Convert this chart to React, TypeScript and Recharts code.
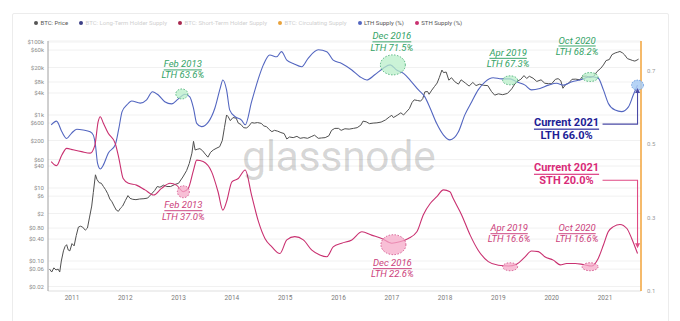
import React from 'react';
import { LineChart, Line, XAxis, YAxis, CartesianGrid, ReferenceDot } from 'recharts';

// ---------- data ----------
const yearTicks = [2011, 2012, 2013, 2014, 2015, 2016, 2017, 2018, 2019, 2020, 2021];
const priceTicks = [0.02, 0.06, 0.1, 0.4, 0.8, 2, 6, 10, 40, 60, 200, 600, 1000, 4000, 8000, 20000, 60000, 100000];
const priceTickLabels = ['$0.02', '$0.06', '$0.10', '$0.40', '$0.80', '$2', '$6', '$10', '$40', '$60', '$200', '$600', '$1k', '$4k', '$8k', '$20k', '$60k', '$100k'];
const ratioTicks = [0.1, 0.3, 0.5, 0.7];

const legendNames = ['BTC: Price', 'BTC: Long-Term Holder Supply', 'BTC: Short-Term Holder Supply', 'BTC: Circulating Supply', 'LTH Supply (%)', 'STH Supply (%)'];
const legendActive = [true, false, false, false, true, true];

const priceSeries: [number, number][] = [
  [2010.58, 0.06], [2010.62, 0.05], [2010.66, 0.065], [2010.70, 0.057], [2010.74, 0.06], [2010.77, 0.05],
  [2010.80, 0.1], [2010.84, 0.19], [2010.87, 0.25], [2010.90, 0.28], [2010.93, 0.2], [2010.96, 0.19],
  [2011.00, 0.3], [2011.04, 0.26], [2011.08, 0.5], [2011.12, 0.85], [2011.16, 0.9], [2011.20, 0.85],
  [2011.25, 0.7], [2011.29, 0.8], [2011.33, 1.6], [2011.37, 3.2], [2011.40, 7.5], [2011.44, 23],
  [2011.47, 17], [2011.51, 14], [2011.55, 13.5], [2011.59, 11], [2011.63, 9], [2011.67, 7], [2011.71, 5],
  [2011.75, 4.2], [2011.79, 3.2], [2011.83, 2.5], [2011.87, 2.3], [2011.91, 2.8], [2011.95, 3.2],
  [2012.00, 4.5], [2012.05, 6.2], [2012.09, 5.2], [2012.14, 4.9], [2012.20, 4.8], [2012.27, 5.0],
  [2012.35, 5.1], [2012.42, 5.3], [2012.48, 6.6], [2012.55, 8.5], [2012.60, 11], [2012.65, 10.5],
  [2012.72, 12], [2012.78, 11], [2012.85, 11], [2012.93, 12.5], [2013.00, 13.5], [2013.08, 20],
  [2013.15, 30], [2013.20, 47], [2013.25, 90], [2013.28, 190], [2013.31, 110], [2013.35, 115],
  [2013.40, 120], [2013.45, 105], [2013.50, 85], [2013.55, 70], [2013.60, 95], [2013.65, 110],
  [2013.72, 125], [2013.77, 135], [2013.82, 200], [2013.86, 450], [2013.90, 1000], [2013.93, 900],
  [2013.97, 700], [2014.02, 850], [2014.08, 820], [2014.12, 600], [2014.17, 550], [2014.22, 450],
  [2014.27, 440], [2014.31, 480], [2014.37, 620], [2014.42, 600], [2014.48, 620], [2014.55, 590],
  [2014.60, 500], [2014.65, 480], [2014.70, 400], [2014.75, 350], [2014.80, 380], [2014.86, 360],
  [2014.92, 330], [2014.98, 310], [2015.03, 220], [2015.08, 250], [2015.15, 240], [2015.22, 260],
  [2015.28, 230], [2015.35, 240], [2015.42, 230], [2015.50, 260], [2015.55, 280], [2015.62, 230],
  [2015.68, 235], [2015.75, 240], [2015.82, 270], [2015.87, 380], [2015.93, 430], [2016.00, 430],
  [2016.05, 380], [2016.12, 420], [2016.20, 410], [2016.28, 430], [2016.35, 450], [2016.42, 530],
  [2016.46, 680], [2016.52, 650], [2016.58, 580], [2016.65, 600], [2016.72, 610], [2016.80, 640],
  [2016.88, 730], [2016.96, 900], [2017.00, 980], [2017.03, 850], [2017.10, 980], [2017.17, 1150],
  [2017.22, 1000], [2017.27, 1200], [2017.33, 1500], [2017.38, 2200], [2017.42, 2600], [2017.48, 2500],
  [2017.54, 2400], [2017.58, 2800], [2017.62, 4300], [2017.67, 4400], [2017.70, 3700], [2017.75, 4800],
  [2017.80, 6000], [2017.85, 7500], [2017.89, 10500], [2017.94, 17000], [2017.97, 14500], [2018.02, 15000],
  [2018.07, 9000], [2018.12, 10500], [2018.18, 8200], [2018.25, 7000], [2018.30, 9200], [2018.38, 7500],
  [2018.45, 6200], [2018.52, 7800], [2018.58, 6400], [2018.65, 7000], [2018.72, 6500], [2018.80, 6400],
  [2018.87, 4400], [2018.93, 3500], [2019.00, 3800], [2019.08, 3600], [2019.17, 3900], [2019.25, 5200],
  [2019.33, 8000], [2019.42, 9500], [2019.48, 12000], [2019.53, 10000], [2019.58, 11500], [2019.65, 10200],
  [2019.72, 8300], [2019.80, 9200], [2019.87, 7400], [2019.94, 7200], [2020.00, 7200], [2020.07, 9500],
  [2020.12, 9900], [2020.17, 8700], [2020.21, 5400], [2020.26, 6800], [2020.32, 7500], [2020.38, 9500],
  [2020.45, 9600], [2020.53, 9200], [2020.58, 11500], [2020.65, 11600], [2020.72, 10600], [2020.79, 11500],
  [2020.85, 15500], [2020.92, 19000], [2020.97, 23500], [2021.02, 31000], [2021.08, 33000], [2021.13, 45000],
  [2021.19, 50000], [2021.23, 52000], [2021.28, 55000], [2021.33, 50000], [2021.37, 44000], [2021.42, 35000],
  [2021.47, 33000], [2021.52, 31000], [2021.56, 30000], [2021.60, 32000], [2021.63, 34000],
];

const lthSeries: [number, number][] = [
  [2010.61, 0.552], [2010.71, 0.562], [2010.81, 0.533], [2010.90, 0.515], [2010.99, 0.529], [2011.09, 0.540],
  [2011.21, 0.538], [2011.34, 0.533], [2011.40, 0.524], [2011.44, 0.497], [2011.48, 0.447], [2011.53, 0.432],
  [2011.59, 0.443], [2011.68, 0.475], [2011.81, 0.497], [2011.88, 0.543], [2011.94, 0.588], [2012.03, 0.606],
  [2012.12, 0.617], [2012.28, 0.611], [2012.40, 0.620], [2012.51, 0.642], [2012.62, 0.633], [2012.74, 0.615],
  [2012.87, 0.609], [2012.99, 0.622], [2013.12, 0.635], [2013.21, 0.628], [2013.28, 0.597], [2013.34, 0.556],
  [2013.43, 0.547], [2013.56, 0.560], [2013.68, 0.597], [2013.78, 0.651], [2013.83, 0.674], [2013.90, 0.647],
  [2013.96, 0.592], [2014.06, 0.574], [2014.18, 0.565], [2014.25, 0.552], [2014.37, 0.615], [2014.50, 0.679],
  [2014.59, 0.715], [2014.71, 0.742], [2014.84, 0.737], [2014.93, 0.751], [2015.03, 0.728], [2015.15, 0.719],
  [2015.31, 0.710], [2015.43, 0.733], [2015.62, 0.756], [2015.78, 0.751], [2015.90, 0.728], [2016.06, 0.719],
  [2016.25, 0.701], [2016.40, 0.683], [2016.53, 0.674], [2016.68, 0.688], [2016.84, 0.706], [2016.97, 0.715],
  [2017.09, 0.701], [2017.22, 0.692], [2017.37, 0.669], [2017.50, 0.647], [2017.62, 0.628], [2017.72, 0.597],
  [2017.84, 0.556], [2017.97, 0.524], [2018.09, 0.511], [2018.25, 0.533], [2018.37, 0.579], [2018.50, 0.615],
  [2018.62, 0.647], [2018.75, 0.669], [2018.90, 0.680], [2019.06, 0.677], [2019.22, 0.677], [2019.34, 0.669],
  [2019.50, 0.660], [2019.62, 0.647], [2019.78, 0.651], [2019.94, 0.660], [2020.09, 0.665], [2020.22, 0.660],
  [2020.38, 0.669], [2020.53, 0.674], [2020.72, 0.683], [2020.87, 0.679], [2020.97, 0.647], [2021.06, 0.611],
  [2021.19, 0.592], [2021.31, 0.588], [2021.44, 0.601], [2021.53, 0.633], [2021.61, 0.660],
];

const sthSeries: [number, number][] = [
  [2010.61, 0.452], [2010.71, 0.441], [2010.81, 0.470], [2010.90, 0.488], [2011.02, 0.484], [2011.18, 0.479],
  [2011.34, 0.475], [2011.43, 0.497], [2011.49, 0.560], [2011.53, 0.574], [2011.59, 0.556], [2011.68, 0.529],
  [2011.81, 0.502], [2011.88, 0.461], [2011.96, 0.406], [2012.06, 0.393], [2012.21, 0.388], [2012.37, 0.375],
  [2012.53, 0.361], [2012.68, 0.379], [2012.84, 0.393], [2012.96, 0.388], [2013.09, 0.370], [2013.18, 0.379],
  [2013.28, 0.429], [2013.34, 0.456], [2013.46, 0.452], [2013.62, 0.424], [2013.74, 0.370], [2013.83, 0.320],
  [2013.90, 0.343], [2014.00, 0.397], [2014.12, 0.406], [2014.25, 0.429], [2014.37, 0.360], [2014.50, 0.288],
  [2014.62, 0.243], [2014.75, 0.220], [2014.90, 0.202], [2015.03, 0.239], [2015.18, 0.248], [2015.34, 0.239],
  [2015.50, 0.211], [2015.65, 0.198], [2015.78, 0.193], [2015.90, 0.220], [2016.06, 0.230], [2016.25, 0.239],
  [2016.44, 0.261], [2016.62, 0.252], [2016.81, 0.243], [2017.00, 0.230], [2017.15, 0.234], [2017.31, 0.243],
  [2017.47, 0.261], [2017.59, 0.307], [2017.72, 0.338], [2017.84, 0.356], [2017.97, 0.375], [2018.09, 0.370],
  [2018.15, 0.352], [2018.31, 0.307], [2018.47, 0.252], [2018.62, 0.211], [2018.81, 0.180], [2019.00, 0.170],
  [2019.19, 0.168], [2019.34, 0.173], [2019.50, 0.193], [2019.62, 0.209], [2019.75, 0.207], [2019.87, 0.193],
  [2020.03, 0.184], [2020.16, 0.171], [2020.28, 0.175], [2020.44, 0.175], [2020.59, 0.172], [2020.75, 0.168],
  [2020.87, 0.188], [2020.97, 0.225], [2021.06, 0.261], [2021.16, 0.275], [2021.28, 0.281], [2021.41, 0.270],
  [2021.50, 0.243], [2021.61, 0.202],
];

const lthCallouts = [
  { date: 2013.06, value: 0.636, month: 'Feb 2013', text: 'LTH 63.6%' },
  { date: 2017.02, value: 0.715, month: 'Dec 2016', text: 'LTH 71.5%' },
  { date: 2019.22, value: 0.673, month: 'Apr 2019', text: 'LTH 67.3%' },
  { date: 2020.72, value: 0.682, month: 'Oct 2020', text: 'LTH 68.2%' },
];
const sthCallouts = [
  { date: 2013.09, value: 0.370, month: 'Feb 2013', text: 'LTH 37.0%' },
  { date: 2017.03, value: 0.226, month: 'Dec 2016', text: 'LTH 22.6%' },
  { date: 2019.22, value: 0.166, month: 'Apr 2019', text: 'LTH 16.6%' },
  { date: 2020.72, value: 0.166, month: 'Oct 2020', text: 'LTH 16.6%' },
];
const currentLth = { date: 2021.61, value: 0.660, title: 'Current 2021', text: 'LTH 66.0%' };
const currentSth = { date: 2021.61, value: 0.200, title: 'Current 2021', text: 'STH 20.0%' };

// ---------- styles ----------
const FONT = 'Roboto, "Noto Sans", sans-serif';
const C_PRICE = '#505050';
const C_LTH = '#5366c0';
const C_STH = '#c93070';
const C_ORANGE = '#f2a33a';
const C_GREEN = '#33a366';
const C_PINK = '#cc3f7c';
const legendColors = ['#555555', '#3b3f86', '#a8284f', '#e9a23b', C_LTH, C_STH];

const greenLayout = [
  { rx: 6, ry: 5, dx: 1, dy1: -30, dy2: -19 },
  { rx: 12.5, ry: 10, dx: -1, dy1: -29, dy2: -17 },
  { rx: 7.5, ry: 4.5, dx: -2, dy1: -28, dy2: -17 },
  { rx: 8, ry: 4.5, dx: -13, dy1: -37, dy2: -26 },
];
const pinkLayout = [
  { rx: 6, ry: 6, dx: 0, dy1: 13, dy2: 25 },
  { rx: 12.5, ry: 10, dx: -1, dy1: 18, dy2: 29 },
  { rx: 7.5, ry: 4, dx: -1, dy1: -39, dy2: -28 },
  { rx: 8, ry: 4, dx: -13, dy1: -39, dy2: -28 },
];

const toPoints = (s: [number, number][]) => s.map(([t, v]) => ({ t, v }));
const priceData = toPoints(priceSeries);
const lthData = toPoints(lthSeries);
const sthData = toPoints(sthSeries);

const priceLabel = (v: number) => {
  const i = priceTicks.findIndex((p) => Math.abs(p - v) / p < 1e-6);
  return i >= 0 ? priceTickLabels[i] : '';
};

const makeCallout = (item: any, lay: any, color: string, fill: string) => (p: any) => {
  const { cx, cy } = p;
  if (cx == null || cy == null) return <g />;
  return (
    <g>
      <ellipse cx={cx} cy={cy} rx={lay.rx} ry={lay.ry} fill={fill} fillOpacity={0.75} stroke={color} strokeWidth={0.8} strokeDasharray="1.5 1.5" />
      <text x={cx + lay.dx} y={cy + lay.dy1} textAnchor="middle" dominantBaseline="central" fontFamily={FONT} fontStyle="italic" fontSize={9.5} fill={color} style={{ textDecoration: 'underline' }}>{item.month}</text>
      <text x={cx + lay.dx} y={cy + lay.dy2} textAnchor="middle" dominantBaseline="central" fontFamily={FONT} fontStyle="italic" fontSize={9.5} fill={color}>{item.text}</text>
    </g>
  );
};

const lthCurrentShape = (p: any) => {
  const { cx, cy } = p;
  if (cx == null || cy == null) return <g />;
  const lineY = cy + 39;
  const col = '#4b4ba6';
  return (
    <g>
      <ellipse cx={cx} cy={cy} rx={6} ry={5} fill="#a9cdf4" fillOpacity={0.85} stroke="#5b8fd8" strokeWidth={0.8} strokeDasharray="1.5 1.2" />
      <polyline points={`${cx - 35},${lineY} ${cx},${lineY} ${cx},${cy + 6}`} fill="none" stroke={col} strokeWidth={1.1} />
      <polygon points={`${cx},${cy + 3} ${cx - 2.5},${cy + 8} ${cx + 2.5},${cy + 8}`} fill={col} />
      <text x={cx - 71} y={cy + 37} textAnchor="middle" dominantBaseline="central" fontFamily={FONT} fontWeight={700} fontSize={11} fill="#1d1d96" style={{ textDecoration: 'underline' }}>{currentLth.title}</text>
      <text x={cx - 71} y={cy + 50} textAnchor="middle" dominantBaseline="central" fontFamily={FONT} fontWeight={700} fontSize={11} fill="#1d1d96">{currentLth.text}</text>
    </g>
  );
};

const sthCurrentShape = (p: any) => {
  const { cx, cy } = p;
  if (cx == null || cy == null) return <g />;
  const lineY = cy - 74;
  const col = '#e04a84';
  return (
    <g>
      <polyline points={`${cx - 35},${lineY} ${cx},${lineY} ${cx},${cy - 10}`} fill="none" stroke={col} strokeWidth={1.1} />
      <polygon points={`${cx},${cy - 6} ${cx - 2.5},${cy - 11} ${cx + 2.5},${cy - 11}`} fill={col} />
      <text x={cx - 71} y={cy - 87} textAnchor="middle" dominantBaseline="central" fontFamily={FONT} fontWeight={700} fontSize={11} fill="#d92b78" style={{ textDecoration: 'underline' }}>{currentSth.title}</text>
      <text x={cx - 71} y={cy - 74} textAnchor="middle" dominantBaseline="central" fontFamily={FONT} fontWeight={700} fontSize={11} fill="#d92b78">{currentSth.text}</text>
    </g>
  );
};

export default function App() {
  return (
    <div style={{ position: 'absolute', left: 0, top: 0, width: 680, height: 321, background: '#fff', overflow: 'hidden', fontFamily: FONT }}>
      <div style={{ position: 'absolute', left: 12, top: 13, width: 657, height: 320, border: '1px solid #ececec', borderRadius: 2, boxSizing: 'border-box' }} />
      <div style={{ position: 'absolute', left: 34, top: 19, display: 'flex', alignItems: 'center', gap: 11, fontSize: 6, lineHeight: '8px', whiteSpace: 'nowrap' }}>
        {legendNames.map((n, i) => (
          <div key={n} style={{ display: 'flex', alignItems: 'center', color: legendActive[i] ? '#555' : '#d0d0d0' }}>
            <span style={{ display: 'inline-block', width: 4, height: 4, borderRadius: 2, background: legendColors[i], marginRight: 2.5 }} />
            <span>{n}</span>
          </div>
        ))}
      </div>
      <div style={{ position: 'absolute', left: 0, top: 0 }}>
        <LineChart width={680} height={321} margin={{ top: 41, right: 9, bottom: 10, left: 0 }}>
          <CartesianGrid vertical={false} yAxisId="left" stroke="#f1f1f1" />
          <XAxis
            dataKey="t"
            type="number"
            domain={[2010.55, 2021.675]}
            ticks={yearTicks}
            allowDataOverflow
            height={20}
            tickLine={false}
            tickSize={1}
            tickMargin={3}
            axisLine={{ stroke: '#e6e6e6' }}
            tick={{ fontSize: 6.5, fill: '#7a7a7a', fontFamily: FONT }}
            tickFormatter={(v: number) => String(v)}
          />
          <YAxis
            yAxisId="left"
            scale="log"
            domain={[0.0151, 106400]}
            ticks={priceTicks}
            allowDataOverflow
            width={48}
            tickLine={false}
            tickSize={2}
            tickMargin={2}
            axisLine={{ stroke: '#a0a0a0' }}
            tick={{ fontSize: 6, fill: '#8a8a8a', fontFamily: FONT }}
            tickFormatter={priceLabel}
            interval={0}
          />
          <YAxis
            yAxisId="right"
            orientation="right"
            domain={[0.1, 0.78]}
            ticks={ratioTicks}
            allowDataOverflow
            width={30}
            tickLine={false}
            tickSize={3}
            tickMargin={3}
            axisLine={{ stroke: C_ORANGE, strokeWidth: 1.5 }}
            tick={{ fontSize: 6, fill: '#9a9a9a', fontFamily: FONT }}
            tickFormatter={(v: number) => String(v)}
            interval={0}
          />
          <Line yAxisId="left" data={priceData} dataKey="v" type="linear" stroke={C_PRICE} strokeWidth={1} dot={false} isAnimationActive={false} />
          <Line yAxisId="right" data={lthData} dataKey="v" type="monotone" stroke={C_LTH} strokeWidth={1.1} dot={false} isAnimationActive={false} />
          <Line yAxisId="right" data={sthData} dataKey="v" type="monotone" stroke={C_STH} strokeWidth={1.1} dot={false} isAnimationActive={false} />
          {lthCallouts.map((c, i) => (
            <ReferenceDot key={'g' + i} yAxisId="right" x={c.date} y={c.value} ifOverflow="visible" shape={makeCallout(c, greenLayout[i], C_GREEN, '#b9efc9')} />
          ))}
          {sthCallouts.map((c, i) => (
            <ReferenceDot key={'p' + i} yAxisId="right" x={c.date} y={c.value} ifOverflow="visible" shape={makeCallout(c, pinkLayout[i], C_PINK, '#f5a9c8')} />
          ))}
          <ReferenceDot yAxisId="right" x={currentLth.date} y={currentLth.value} ifOverflow="visible" shape={lthCurrentShape} />
          <ReferenceDot yAxisId="right" x={currentSth.date} y={currentSth.value} ifOverflow="visible" shape={sthCurrentShape} />
        </LineChart>
      </div>
      <div style={{ position: 'absolute', left: 242, top: 131, fontSize: 43, color: 'rgba(0,0,0,0.16)', fontFamily: 'Roboto, sans-serif', letterSpacing: -0.5, pointerEvents: 'none', lineHeight: '50px' }}>
        glassnode
      </div>
    </div>
  );
}
